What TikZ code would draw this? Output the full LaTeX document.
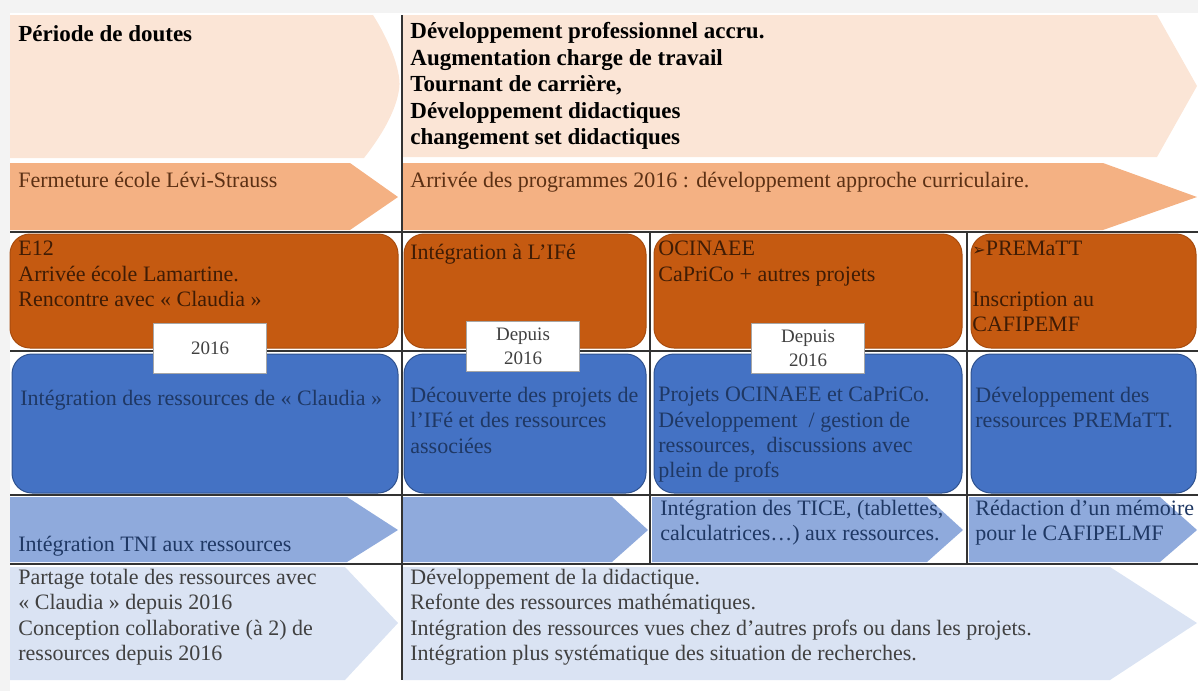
\documentclass[tikz,border=0pt]{standalone}
\usepackage{fontspec}
\setmainfont{Liberation Serif}
\newfontfamily\symfont{DejaVu Sans}
\definecolor{frame}{HTML}{F3F3F3}
\definecolor{peach}{HTML}{FBE5D6}
\definecolor{salmon}{HTML}{F4B183}
\definecolor{rust}{HTML}{C55A11}
\definecolor{rustline}{HTML}{A84C0E}
\definecolor{royal}{HTML}{4472C4}
\definecolor{royalline}{HTML}{2F528F}
\definecolor{sky}{HTML}{8FAADC}
\definecolor{mist}{HTML}{DAE3F3}
\definecolor{navy}{HTML}{1F3864}
\definecolor{umber}{HTML}{5B3014}
\definecolor{soil}{HTML}{3F1C05}
\definecolor{ink}{HTML}{404040}

\begin{document}
\begin{tikzpicture}[x=0.5pt,y=-0.5pt]
	\tikzset{block/.style={anchor=north west,inner sep=0pt,align=left,font=\fontsize{11}{12.6}\selectfont,execute at begin node=\strut},
		bblock/.style={block,font=\fontsize{11.5}{13.3}\selectfont\bfseries},
		datebox/.style={draw=black!35,fill=white,align=center,inner sep=0pt,minimum width=56.5pt,minimum height=25pt,text=ink,font=\fontsize{9.5}{12}\selectfont},
		rblock/.style={rounded corners=10pt,line width=0.5pt},
		gline/.style={black!80,line width=0.6pt}
	}
	\useasboundingbox (0,0) rectangle (1198,691);
	\fill[frame] (0,0) rectangle (1198,13);
	\fill[frame] (0,13) rectangle (10,691);
	% chevrons
	\fill[peach] (10,15) -- (373,15) .. controls (392,45) and (402,75) .. (399,90) .. controls (395,115) and (378,140) .. (364,158) -- (10,158) -- cycle;
	\fill[peach] (403,15) -- (1157,15) -- (1197,86) -- (1157,157) -- (403,157) -- cycle;
	\fill[salmon] (10,163) -- (350,163) -- (398,197) -- (350,230) -- (10,230) -- cycle;
	\fill[salmon] (403,163) -- (1103,163) -- (1197,197) -- (1103,230) -- (403,230) -- cycle;
	\fill[sky] (10,497) -- (347,497) -- (398,530) -- (347,562) -- (10,562) -- cycle;
	\fill[sky] (403,497) -- (612,497) -- (648,530) -- (612,562) -- (403,562) -- cycle;
	\fill[sky] (652,497) -- (927,497) -- (963,530) -- (927,562) -- (652,562) -- cycle;
	\fill[sky] (969,497) -- (1160,497) -- (1197,530) -- (1160,562) -- (969,562) -- cycle;
	\fill[mist] (10,567) -- (345,567) -- (398,623) -- (345,680) -- (10,680) -- cycle;
	\fill[mist] (403,567) -- (1110,567) -- (1197,623) -- (1110,680) -- (403,680) -- cycle;
	% rounded boxes
	\filldraw[rblock,fill=rust,draw=rustline] (10,234) rectangle (398,348);
	\filldraw[rblock,fill=rust,draw=rustline] (404,234) rectangle (646,348);
	\filldraw[rblock,fill=rust,draw=rustline] (654,234) rectangle (962,348);
	\filldraw[rblock,fill=rust,draw=rustline] (971,234) rectangle (1196,348);
	\filldraw[rblock,fill=royal,draw=royalline] (12,354) rectangle (398,493);
	\filldraw[rblock,fill=royal,draw=royalline] (404,354) rectangle (646,493);
	\filldraw[rblock,fill=royal,draw=royalline] (654,354) rectangle (962,493);
	\filldraw[rblock,fill=royal,draw=royalline] (971,354) rectangle (1196,493);
	% table lines
	\draw[gline] (402,15) -- (402,680);
	\draw[gline] (650,232) -- (650,564);
	\draw[gline] (967,232) -- (967,564);
	\draw[gline] (10,232) -- (1198,232);
	\draw[gline] (10,351) -- (1198,351);
	\draw[gline] (10,495) -- (1198,495);
	\draw[gline] (10,564) -- (1198,564);
	
	\node[bblock] (a1) at (18,22) {Période de doutes};
	\node[bblock] (a2) at (410,22) {Développement professionnel accru.\\Augmentation charge de travail\\Tournant de carrière,\\Développement didactiques\\changement set didactiques};
	\node[block,text=umber] (b1) at (18,169) {Fermeture école Lévi-Strauss};
	\node[block,text=umber] (b2) at (410,169) {Arrivée des programmes 2016 : développement approche curriculaire.};
	\node[block,text=soil] (c1) at (18,241) {E12\\Arrivée école Lamartine.\\Rencontre avec « Claudia »};
	\node[block,text=soil] (c2) at (410,241) {Intégration à L’IFé};
	\node[block,text=soil] (c3) at (658,241) {OCINAEE\\CaPriCo + autres projets};
	\node[block,text=soil] (c4) at (972,241) {{\symfont\fontsize{8}{9}\selectfont ➢}PREMaTT\\[12.6pt]Inscription au\\CAFIPEMF};
	\node[block,text=navy] (d1) at (20,387) {Intégration des ressources de « Claudia »};
	\node[block,text=navy] (d2) at (410,387) {Découverte des projets de\\l’IFé et des ressources\\associées};
	\node[block,text=navy] (d3) at (658,387) {Projets OCINAEE et CaPriCo.\\Développement~~/ gestion de\\ressources,~ discussions avec\\plein de profs};
	\node[block,text=navy] (d4) at (975,387) {Développement des\\ressources PREMaTT.};
	\node[block,text=navy] (e1) at (18,533) {Intégration TNI aux ressources};
	\node[block,text=navy] (e3) at (660,500) {Intégration des TICE, (tablettes,\\calculatrices…) aux ressources.};
	\node[block,text=navy] (e4) at (975,500) {Rédaction d’un mémoire\\pour le CAFIPELMF};
	\node[block,text=ink] (f1) at (18,569) {Partage totale des ressources avec\\« Claudia » depuis 2016\\Conception collaborative (à 2) de\\ressources depuis 2016};
	\node[block,text=ink] (f2) at (410,569) {Développement de la didactique.\\Refonte des ressources mathématiques.\\Intégration des ressources vues chez d’autres profs ou dans les projets.\\Intégration plus systématique des situation de recherches.};
	
	\node[datebox] (t1) at (210,348) {2016};
	\node[datebox] (t2) at (523,346) {Depuis\\2016};
	\node[datebox] (t3) at (808,348) {Depuis\\2016};
\end{tikzpicture}
\end{document}
